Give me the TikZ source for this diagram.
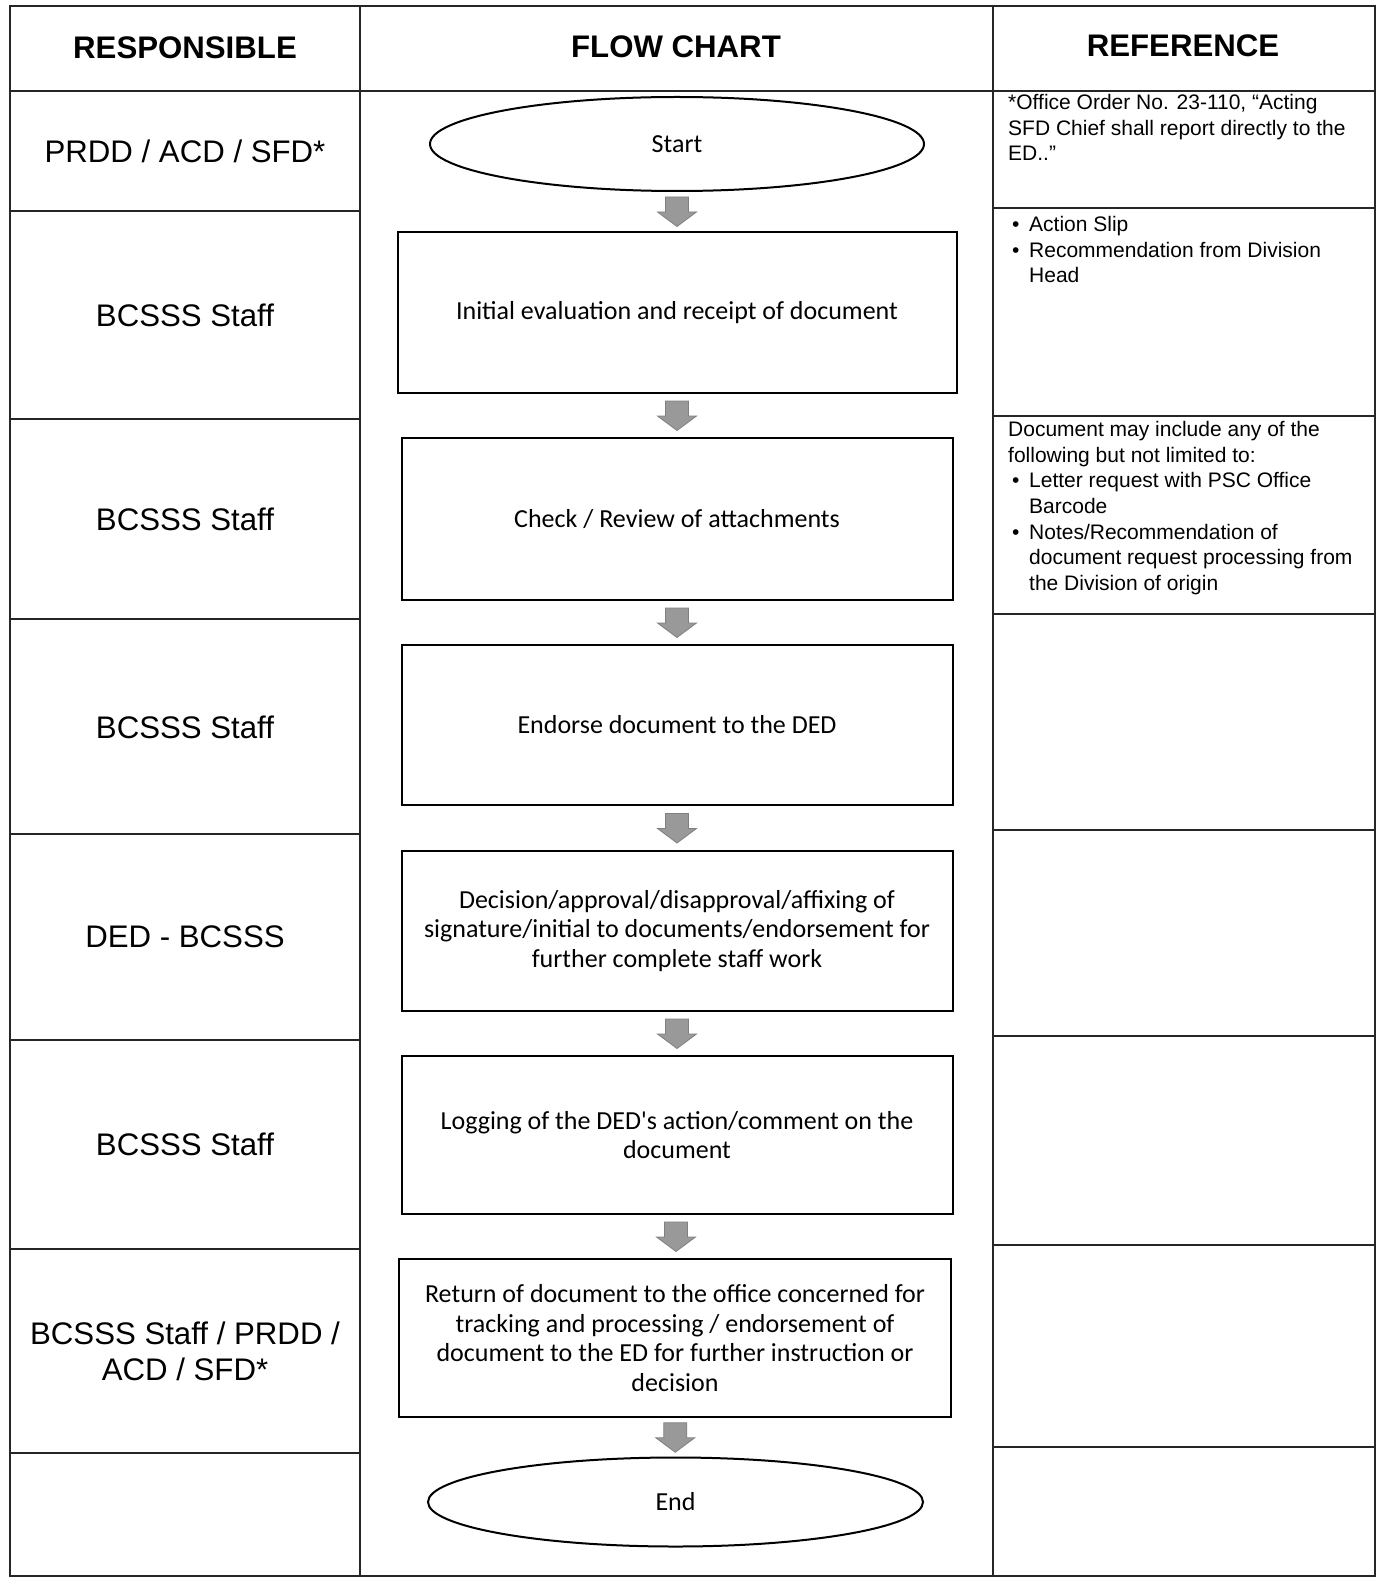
\documentclass[tikz,border=0pt]{standalone}
\usepackage{fontspec}
\setmainfont{Liberation Sans}
\newfontfamily\boxfont{Carlito}
\usetikzlibrary{shapes.geometric,calc}
\newcommand{\bul}{\hspace*{4pt}\makebox[17pt][l]{•}}
\newcommand{\ind}{\hspace*{21pt}}
\newcommand{\blockarr}[2]{%
  \coordinate (m#1#2) at ($(#1.south)!0.5!(#2.north)$);
  \filldraw[blockarrow] ([shift={(-11.5,-14.5)}]m#1#2) -- ([shift={(11.5,-14.5)}]m#1#2)
    -- ([shift={(11.5,0.5)}]m#1#2) -- ([shift={(19.5,0.5)}]m#1#2)
    -- ([shift={(0,15)}]m#1#2) -- ([shift={(-19.5,0.5)}]m#1#2)
    -- ([shift={(-11.5,0.5)}]m#1#2) -- cycle;}
\begin{document}
\begin{tikzpicture}[x=1pt,y=-1pt,
  tline/.style={line width=1.5pt,draw=black!85},
  flowbox/.style={draw,line width=2pt,rectangle,inner sep=0pt,align=center,
    font=\boxfont\fontsize{26}{29.5}\selectfont},
  term/.style={draw,line width=2pt,ellipse,inner sep=0pt,
    font=\boxfont\fontsize{26}{29.5}\selectfont},
  blockarrow/.style={draw=black!50,fill=black!40,line width=0.8pt,line join=miter},
  resp/.style={align=center,inner sep=0pt,font=\fontsize{31.2}{36}\selectfont},
  head/.style={inner sep=0pt,font=\bfseries\fontsize{31.2}{36}\selectfont},
  reftext/.style={anchor=north west,align=left,inner sep=0pt,
    font=\fontsize{21}{25.7}\selectfont}]
\useasboundingbox (0,0) rectangle (1379,1578);
% table
\draw[tline] (10,6) rectangle (1375,1576);
\draw[tline] (360,6) -- (360,1576);
\draw[tline] (993,6) -- (993,1576);
\draw[tline] (10,91) -- (1375,91);
\foreach \yy in {211,419,619,834,1040,1249,1453}{\draw[tline] (10,\yy) -- (360,\yy);}
\foreach \yy in {208,416,614,830,1036,1245,1447}{\draw[tline] (993,\yy) -- (1375,\yy);}
% headers
\node[head] (h1) at (185,48) {RESPONSIBLE};
\node[head] (h2) at (676,47) {FLOW CHART};
\node[head] (h3) at (1183,46) {REFERENCE};
% responsible
\node[resp] (r1) at (185,151) {PRDD / ACD / SFD*};
\node[resp] (r2) at (185,315) {BCSSS Staff};
\node[resp] (r3) at (185,519) {BCSSS Staff};
\node[resp] (r4) at (185,727) {BCSSS Staff};
\node[resp] (r5) at (185,937) {DED - BCSSS};
\node[resp] (r6) at (185,1144) {BCSSS Staff};
\node[resp] (r7) at (185,1351) {BCSSS Staff / PRDD /\\ACD / SFD*};
% flow
\node[term,minimum width=494pt,minimum height=94pt] (s) at (677,144) {Start};
\node[flowbox,minimum width=559pt,minimum height=161pt] (b1) at (677,312.5) {Initial evaluation and receipt of document};
\node[flowbox,minimum width=551pt,minimum height=162pt] (b2) at (677,519) {Check / Review of attachments};
\node[flowbox,minimum width=551pt,minimum height=160pt] (b3) at (677,725) {Endorse document to the DED};
\node[flowbox,minimum width=551pt,minimum height=160pt] (b4) at (677,931) {Decision/approval/disapproval/affixing of\\signature/initial to documents/endorsement for\\further complete staff work};
\node[flowbox,minimum width=551pt,minimum height=158pt] (b5) at (677,1135) {Logging of the DED's action/comment on the\\document};
\node[flowbox,minimum width=552pt,minimum height=158pt] (b6) at (675,1338) {Return of document to the office concerned for\\tracking and processing / endorsement of\\document to the ED for further instruction or\\decision};
\node[term,minimum width=495pt,minimum height=89pt] (e) at (675.5,1502) {End};
% arrows
\blockarr{s}{b1}
\blockarr{b1}{b2}
\blockarr{b2}{b3}
\blockarr{b3}{b4}
\blockarr{b4}{b5}
\blockarr{b5}{b6}
\blockarr{b6}{e}
% reference
\node[reftext] (f1) at (1008,94) {*Office Order No. 23-110, “Acting\\SFD Chief shall report directly to the\\ED..”};
\node[reftext] (f2) at (1008,216) {\bul Action Slip\\\bul Recommendation from Division\\\ind Head};
\node[reftext] (f3) at (1008,421) {Document may include any of the\\following but not limited to:\\\bul Letter request with PSC Office\\\ind Barcode\\\bul Notes/Recommendation of\\\ind document request processing from\\\ind the Division of origin};
\end{tikzpicture}
\end{document}
